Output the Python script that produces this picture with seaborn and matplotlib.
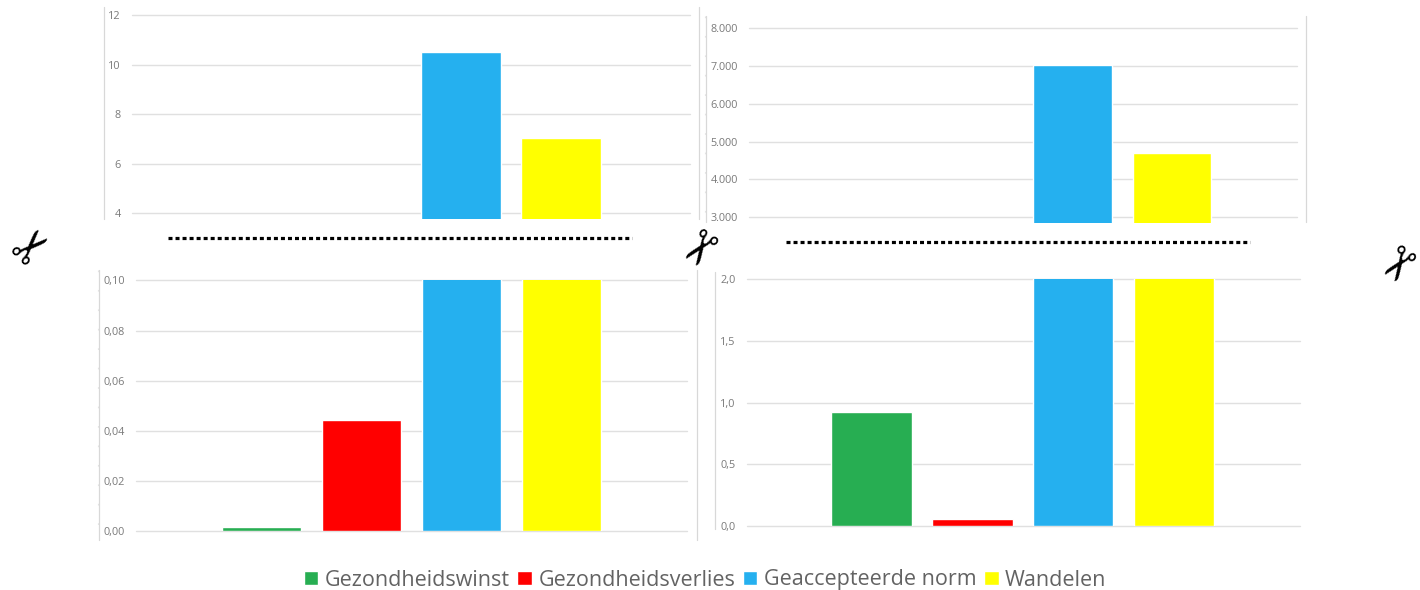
import matplotlib
matplotlib.use("Agg")
import matplotlib.pyplot as plt
from matplotlib.lines import Line2D
from matplotlib.patches import Patch
import seaborn as sns

categories = ["Gezondheidswinst", "Gezondheidsverlies", "Geaccepteerde norm", "Wandelen"]
colors = ["#27AE52", "#FF0000", "#25B0EF", "#FFFF00"]
left_values = [0.0016, 0.0445, 10.52, 7.03]
right_values = [0.92, 0.052, 7020, 4700]

top_left_ticks = [4, 6, 8, 10, 12]
top_left_labels = ["4", "6", "8", "10", "12"]
bottom_left_ticks = [0.0, 0.02, 0.04, 0.06, 0.08, 0.10]
bottom_left_labels = ["0,00", "0,02", "0,04", "0,06", "0,08", "0,10"]
top_right_ticks = [3000, 4000, 5000, 6000, 7000, 8000]
top_right_labels = ["3.000", "4.000", "5.000", "6.000", "7.000", "8.000"]
bottom_right_ticks = [0.0, 0.5, 1.0, 1.5, 2.0]
bottom_right_labels = ["0,0", "0,5", "1,0", "1,5", "2,0"]

W, H = 1420, 590
GRID = "#E0E0E0"
TICK_TEXT = "#7A7A7A"

sns.set_theme(style="white")
plt.rcParams["font.family"] = ["Open Sans", "DejaVu Sans"]

fig = plt.figure(figsize=(W / 100, H / 100), dpi=100, facecolor="white")
palette = dict(zip(categories, colors))


def panel(values, x0, x1, y_top, y_bot, ylim, ticks, labels, first_center, period, bar_px):
    """One axes placed in pixel coordinates; bars past the limits are cut off by the axes."""
    ax = fig.add_axes([x0 / W, 1 - y_bot / H, (x1 - x0) / W, (y_bot - y_top) / H])
    ax.patch.set_alpha(0)
    sns.barplot(x=categories, y=values, hue=categories, order=categories, hue_order=categories,
                palette=palette, saturation=1, width=bar_px / period, legend=False, ax=ax)
    ax.set_xlim((x0 - first_center) / period, (x1 - first_center) / period)
    ax.set_ylim(*ylim)
    ax.set_yticks(ticks)
    ax.set_yticklabels(labels)
    ax.set_xticks([])
    ax.set_xlabel("")
    ax.set_ylabel("")
    ax.tick_params(axis="y", length=0, pad=8, labelsize=7.8, labelcolor=TICK_TEXT)
    ax.set_axisbelow(True)
    ax.grid(axis="y", color=GRID, linewidth=1.0)
    for line in ax.get_ygridlines():
        line.set_clip_on(False)
    sns.despine(ax=ax, left=True, bottom=True)
    return ax


panel(left_values, 132, 690, 15.3, 219, (3.77, 12), top_left_ticks, top_left_labels, 259.5, 100.5, 80)
panel(left_values, 136, 686.6, 280.3, 531.3, (0, 0.10), bottom_left_ticks, bottom_left_labels, 261, 100, 79)
panel(right_values, 749, 1297, 28.3, 223, (2841, 8000), top_right_ticks, top_right_labels, 873, 99.7, 78.5)
panel(right_values, 746.5, 1300, 279.3, 525.7, (0, 2.0), bottom_right_ticks, bottom_right_labels, 871.5, 100.8, 80.5)


def fig_line(x0, y0, x1, y1, **kw):
    fig.add_artist(Line2D([x0 / W, x1 / W], [1 - y0 / H, 1 - y1 / H], transform=fig.transFigure, **kw))


# Frame lines beside the panels
for x, y0, y1 in [(104, 7, 219), (699, 7, 219), (706, 16, 222), (1306, 16, 222),
                  (98.7, 270, 540), (696.5, 270, 540), (714.5, 272, 529)]:
    fig_line(x, y0, x, y1, color="#D8D8D8", linewidth=0.9)

# Small minor-tick marks on the left frame lines
fig_line(97.8, 270, 97.8, 540, color="#E2E2E2", linewidth=0.8, linestyle=(0, (1.5, 16)))
fig_line(705.2, 16, 705.2, 222, color="#E2E2E2", linewidth=0.8, linestyle=(0, (1.5, 16)))

# Axis-break markers
for x0, x1, y in [(168, 632, 238), (786, 1250, 242)]:
    fig_line(x0, y, x1, y, color="black", linewidth=2.3, linestyle=(0, (1.25, 0.95)))

for x, y, rot, size in [(34, 248, 45, 34), (693, 245, 235, 34), (1393, 261, 235, 33)]:
    fig.text(x / W, 1 - y / H, "\u2702", family="DejaVu Sans", fontsize=size, rotation=rot,
             ha="center", va="center", color="black")

handles = [Patch(facecolor=c, label=n) for c, n in zip(colors, categories)]
fig.legend(handles=handles, loc="center", bbox_to_anchor=(705 / W, 1 - 580 / H), ncol=4, frameon=False,
           fontsize=15.5, labelcolor="#636363", handlelength=0.68, handleheight=0.68, handletextpad=0.3,
           columnspacing=0.35, borderpad=0, borderaxespad=0)

fig.savefig("out.png", dpi=100, facecolor="white")
